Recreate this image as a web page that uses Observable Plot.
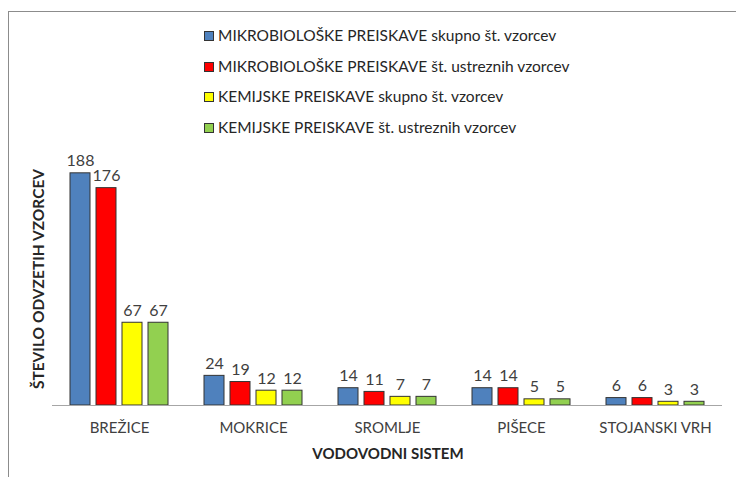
<!DOCTYPE html>
<html>
<head>
<meta charset="utf-8">
<script src="https://cdn.jsdelivr.net/npm/d3@7"></script>
<script src="https://cdn.jsdelivr.net/npm/@observablehq/plot@0.6"></script>
<style>
  html, body { margin: 0; padding: 0; background: #fff; }
  #wrap { position: relative; width: 736px; height: 477px; overflow: hidden; font-family: Lato, "Open Sans", sans-serif; color: #404040; }
  #frame { position: absolute; left: 8px; top: 11px; right: -2px; bottom: -2px; border-left: 1.5px solid #8c8c8c; border-top: 1.5px solid #8c8c8c; }
  #chart { position: absolute; left: 0; top: 0; }
  #legend { position: absolute; left: 204px; top: 26px; font-size: 15.5px; color: #262626; }
  .item { height: 30.7px; display: flex; align-items: flex-start; white-space: nowrap; }
  .sw { width: 8px; height: 8px; border: 1px solid #333; margin-right: 4px; margin-top: 5px; flex: none; }
  #ytitle { position: absolute; left: 38px; top: 279px; transform: translate(-50%, -50%) rotate(-90deg); font-weight: bold; font-size: 15.5px; white-space: nowrap; color: #262626; }
  #xtitle { position: absolute; left: 388px; top: 453px; transform: translate(-50%, -50%); font-weight: bold; font-size: 15px; white-space: nowrap; color: #262626; }
</style>
</head>
<body>
<div id="wrap">
  <div id="frame"></div>
  <div id="chart"></div>
  <div id="legend"></div>
  <div id="ytitle"></div>
  <div id="xtitle"></div>
</div>
<script>
const categories = ["BREŽICE", "MOKRICE", "SROMLJE", "PIŠECE", "STOJANSKI VRH"];
const seriesNames = [
  "MIKROBIOLOŠKE PREISKAVE skupno št. vzorcev",
  "MIKROBIOLOŠKE PREISKAVE št. ustreznih vzorcev",
  "KEMIJSKE PREISKAVE skupno št. vzorcev",
  "KEMIJSKE PREISKAVE št. ustreznih vzorcev"
];
const mikroSkupno = [188, 24, 14, 14, 6];
const mikroUstrezni = [176, 19, 11, 14, 6];
const kemSkupno = [67, 12, 7, 5, 3];
const kemUstrezni = [67, 12, 7, 5, 3];
const colors = ["#4f81bd", "#ff0000", "#ffff00", "#92d050"];
const yTitle = "ŠTEVILO ODVZETIH VZORCEV";
const xTitle = "VODOVODNI SISTEM";

const seriesValues = [mikroSkupno, mikroUstrezni, kemSkupno, kemUstrezni];
const data = [];
categories.forEach((c, i) => {
  seriesNames.forEach((s, j) => data.push({cat: c, series: s, value: seriesValues[j][i]}));
});

const chart = Plot.plot({
  width: 736,
  height: 477,
  marginLeft: 51,
  marginRight: 13,
  marginTop: 158,
  marginBottom: 72,
  style: {fontFamily: "Lato, 'Open Sans', sans-serif", fontSize: "15px", color: "#404040", background: "transparent"},
  fx: {domain: categories, padding: 0, label: null, axis: "bottom", tickSize: 0, tickPadding: 17},
  x: {domain: seriesNames, paddingInner: 0.22, paddingOuter: 0.62, axis: null},
  y: {domain: [0, 200], axis: null},
  color: {domain: seriesNames, range: colors},
  marks: [
    Plot.barY(data, {fx: "cat", x: "series", y: "value", fill: "series", stroke: "#333333", strokeWidth: 1}),
    Plot.ruleY([0], {stroke: "#a6a6a6", strokeWidth: 1.2}),
    Plot.text(data, {fx: "cat", x: "series", y: "value", text: d => String(d.value), lineAnchor: "bottom", dy: -7, fill: "#404040", fontSize: 16})
  ]
});
document.getElementById("chart").appendChild(chart);

const legend = document.getElementById("legend");
seriesNames.forEach((s, j) => {
  const item = document.createElement("div");
  item.className = "item";
  const sw = document.createElement("span");
  sw.className = "sw";
  sw.style.background = colors[j];
  const t = document.createElement("span");
  t.textContent = s;
  item.appendChild(sw);
  item.appendChild(t);
  legend.appendChild(item);
});
document.getElementById("ytitle").textContent = yTitle;
document.getElementById("xtitle").textContent = xTitle;
</script>
</body>
</html>
